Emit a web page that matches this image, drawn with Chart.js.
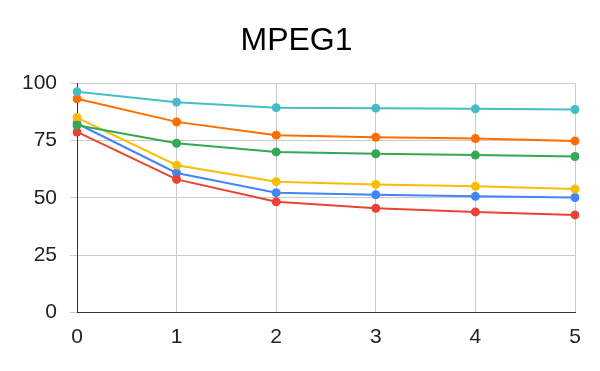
<!DOCTYPE html>
<html>
<head>
<meta charset="utf-8">
<script src="https://cdn.jsdelivr.net/npm/chart.js@4/dist/chart.umd.min.js"></script>
<style>
html,body{margin:0;padding:0;background:#fff;}
#wrap{width:600px;height:371px;}
</style>
</head>
<body>
<div id="wrap"><canvas id="c" width="600" height="371"></canvas></div>
<script>
const categories = ['0','1','2','3','4','5'];
const seriesBlue   = [82.5, 60.9, 52.3, 51.4, 50.7, 50.2];
const seriesRed    = [78.8, 58.1, 48.3, 45.5, 43.9, 42.6];
const seriesYellow = [85.1, 64.3, 57.1, 55.9, 55.1, 53.9];
const seriesGreen  = [81.7, 73.9, 70.1, 69.3, 68.7, 68.1];
const seriesOrange = [93.3, 83.2, 77.4, 76.5, 75.9, 74.9];
const seriesCyan   = [96.4, 91.8, 89.4, 89.2, 88.9, 88.6];
const yTicks = [0, 25, 50, 75, 100];

const colors = ['#4285f4','#ea4335','#fbbc04','#34a853','#ff6d01','#46bdc6'];
const allSeries = [seriesBlue, seriesRed, seriesYellow, seriesGreen, seriesOrange, seriesCyan];

const datasets = allSeries.map((d, i) => ({
  data: d,
  borderColor: colors[i],
  backgroundColor: colors[i],
  borderWidth: 2,
  pointRadius: 4.5,
  pointBorderWidth: 0,
  pointBackgroundColor: colors[i],
  tension: 0,
  fill: false,
  order: allSeries.length - i
}));

const FONT = '"Liberation Sans", Arial, sans-serif';

new Chart(document.getElementById('c'), {
  type: 'line',
  data: { labels: categories, datasets },
  options: {
    responsive: false,
    animation: false,
    layout: { padding: { left: 18, right: 25, top: 0, bottom: 0 } },
    plugins: {
      legend: { display: false },
      tooltip: { enabled: false },
      title: {
        display: true,
        text: 'MPEG1',
        color: '#000',
        font: { family: FONT, size: 32, weight: 'normal' },
        padding: { top: 22, bottom: 23 }
      }
    },
    scales: {
      x: {
        offset: false,
        grid: { color: '#cccccc', drawTicks: false, lineWidth: 1 },
        border: { color: '#333333', width: 1 },
        ticks: { color: '#222', font: { family: FONT, size: 21 }, padding: 12, maxRotation: 0 },
        afterFit: s => { s.height = 58.5; }
      },
      y: {
        min: 0, max: 100,
        afterBuildTicks: s => { s.ticks = yTicks.map(v => ({ value: v })); },
        grid: { color: '#cccccc', tickLength: 7, lineWidth: 1 },
        border: { color: '#333333', width: 1 },
        ticks: { color: '#222', font: { family: FONT, size: 21 }, padding: 13 },
        afterFit: s => { s.width = 59; }
      }
    }
  }
});
</script>
</body>
</html>
